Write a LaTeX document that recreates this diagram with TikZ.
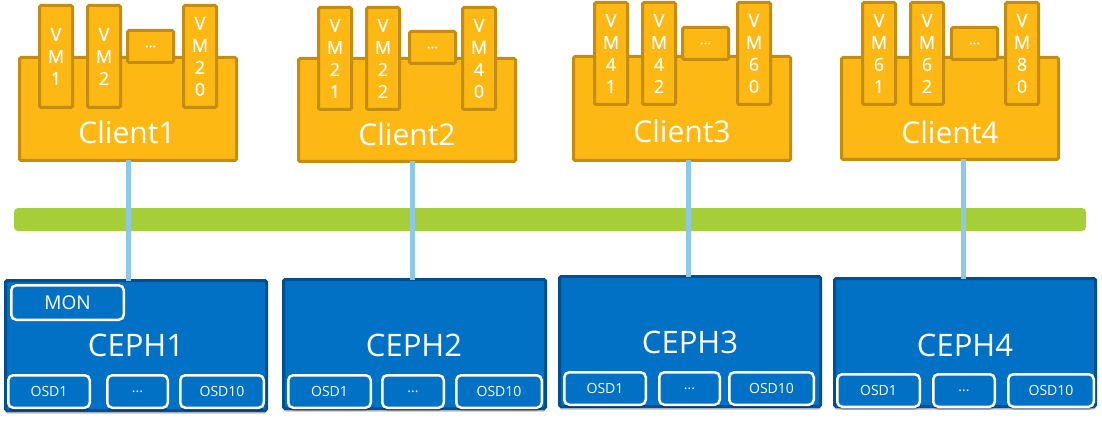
\documentclass[tikz,border=0pt]{standalone}
\usepackage{fontspec}
\setmainfont{Open Sans}
\newfontfamily\vmfont{Open Sans}[FakeBold=0.6]
\usetikzlibrary{shadows}
\definecolor{cyel}{HTML}{FDB813}
\definecolor{cyelb}{HTML}{C48D10}
\definecolor{cblue}{HTML}{0071C5}
\definecolor{cblueb}{HTML}{00508F}
\definecolor{clink}{HTML}{8DC8E8}
\definecolor{cbus}{HTML}{A6CE39}
\begin{document}
\begin{tikzpicture}[x=1pt,y=-1pt,
  body/.style={draw=cyelb, fill=cyel, line width=3pt, rounded corners=1.5pt,
    anchor=north west, inner sep=0pt, outer sep=0pt, xshift=1.5pt, yshift=-1.5pt,
    minimum width=217pt, minimum height=103pt},
  vm/.style={body, minimum width=33pt, minimum height=102pt, text=white,
    font=\vmfont\fontsize{18}{22}\selectfont, align=center},
  vdots/.style={body, minimum width=46pt, minimum height=32pt, text=white,
    font=\vmfont\fontsize{14}{14}\selectfont},
  clabel/.style={text=white, font=\fontsize{30}{34}\selectfont, inner sep=0pt},
  ceph/.style={draw=cblueb, fill=cblue, line width=3pt, rounded corners=1.5pt,
    anchor=north west, inner sep=0pt, outer sep=0pt, xshift=1.5pt, yshift=-1.5pt,
    drop shadow={shadow xshift=0pt, shadow yshift=-3pt, opacity=0.25, fill=black}},
  inbox/.style={draw=white, fill=cblue, line width=2.5pt, rounded corners=5pt,
    anchor=north west, inner sep=0pt, outer sep=0pt, xshift=1.25pt, yshift=-1.25pt,
    text=white, minimum height=32.5pt},
  osd/.style={inbox, font=\fontsize{14}{16}\selectfont,
    drop shadow={shadow xshift=0pt, shadow yshift=-3pt, opacity=0.25, fill=black}},
  mon/.style={inbox, font=\fontsize{19}{22}\selectfont, minimum height=34.5pt},
  elabel/.style={text=white, font=\fontsize{31}{36}\selectfont, inner sep=0pt},
  link/.style={draw=clink, line width=5pt},
  bus/.style={fill=cbus, rounded corners=4pt, inner sep=0pt, outer sep=0pt,
    anchor=north west, minimum width=1072pt, minimum height=23pt}
]
\useasboundingbox (0,0) rectangle (1102,422);

% bus
\node[bus] (bus) at (14,208) {};

% client bodies
\node[body] (c1) at (18,56) {};
\node[body, minimum height=103pt] (c2) at (297,57) {};
\node[body, minimum height=104pt] (c3) at (572,55) {};
\node[body, minimum height=102pt] (c4) at (840,56) {};

% ceph boxes
\node[ceph, minimum width=261pt, minimum height=130pt] (e1) at (4,279) {};
\node[ceph, minimum width=262pt, minimum height=129pt] (e2) at (282,278) {};
\node[ceph, minimum width=261pt, minimum height=130pt] (e3) at (558,275) {};
\node[ceph, minimum width=261pt, minimum height=128pt] (e4) at (833,277) {};

% links
\coordinate (x1) at (128,0);
\coordinate (x2) at (412,0);
\coordinate (x3) at (688,0);
\coordinate (x4) at (963,0);
\draw[link] (c1.south -| x1) -- (e1.north -| x1);
\draw[link] (c2.south -| x2) -- (e2.north -| x2);
\draw[link] (c3.south -| x3) -- (e3.north -| x3);
\draw[link] (c4.south -| x4) -- (e4.north -| x4);

% client 1
\node[vm] (vm1) at (38,4) {V\\M\\1};
\node[vm] (vm2) at (86,4) {V\\M\\2};
\node[vdots] (d1) at (126,29) {...};
\node[vm] (vm20) at (182,4) {V\\M\\2\\0};
\node[clabel] (l1) at (127,132) {Client1};

% client 2
\node[vm] (vm21) at (317,6) {V\\M\\2\\1};
\node[vm] (vm22) at (365,6) {V\\M\\2\\2};
\node[vdots] (d2) at (408,30) {...};
\node[vm] (vm40) at (461,6) {V\\M\\4\\0};
\node[clabel] (l2) at (407,134) {Client2};

% client 3
\node[vm] (vm41) at (593,1) {V\\M\\4\\1};
\node[vm] (vm42) at (641,1) {V\\M\\4\\2};
\node[vdots] (d3) at (681,26) {...};
\node[vm] (vm60) at (736,1) {V\\M\\6\\0};
\node[clabel] (l3) at (682,131) {Client3};

% client 4
\node[vm] (vm61) at (861,1) {V\\M\\6\\1};
\node[vm] (vm62) at (909,1) {V\\M\\6\\2};
\node[vdots] (d4) at (950,26) {...};
\node[vm] (vm80) at (1004,1) {V\\M\\8\\0};
\node[clabel] (l4) at (950,132) {Client4};

% ceph 1
\node[mon, minimum width=112.5pt] (mon) at (10,284) {MON};
\node[elabel] (el1) at (136,345) {CEPH1};
\node[osd, minimum width=81.5pt] (o1a) at (7,374) {OSD1};
\node[osd, minimum width=60.5pt] (o1b) at (106,374) {...};
\node[osd, minimum width=83.5pt] (o1c) at (179,374) {OSD10};

% ceph 2
\node[elabel] (el2) at (414,345) {CEPH2};
\node[osd, minimum width=82.5pt] (o2a) at (287,374) {OSD1};
\node[osd, minimum width=61.5pt] (o2b) at (381,374) {...};
\node[osd, minimum width=85.5pt] (o2c) at (455,374) {OSD10};

% ceph 3
\node[elabel] (el3) at (690,342) {CEPH3};
\node[osd, minimum width=81.5pt] (o3a) at (563,371) {OSD1};
\node[osd, minimum width=60.5pt] (o3b) at (658,371) {...};
\node[osd, minimum width=84.5pt] (o3c) at (728,371) {OSD10};

% ceph 4
\node[elabel] (el4) at (965,345) {CEPH4};
\node[osd, minimum width=82.5pt] (o4a) at (836,373) {OSD1};
\node[osd, minimum width=61.5pt] (o4b) at (932,373) {...};
\node[osd, minimum width=85.5pt] (o4c) at (1007,373) {OSD10};
\end{tikzpicture}
\end{document}
